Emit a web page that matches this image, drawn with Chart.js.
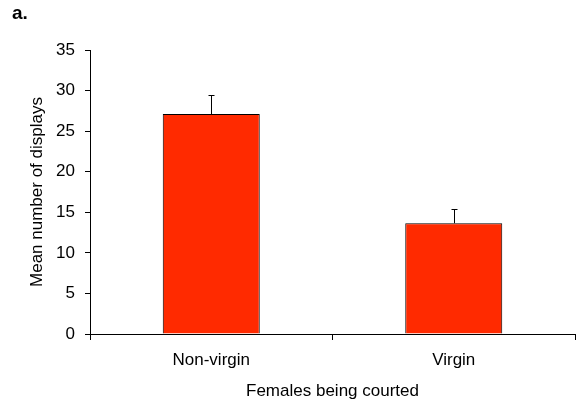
<!DOCTYPE html>
<html>
<head>
<meta charset="utf-8">
<script src="https://cdn.jsdelivr.net/npm/chart.js@4"></script>
<style>
  html, body { margin: 0; padding: 0; background: #fff; }
  #wrap { width: 576px; height: 404px; position: relative; }
</style>
</head>
<body>
<div id="wrap"><canvas id="c" width="576" height="404"></canvas></div>
<script>
// Mean displays per female group, with standard error (drawn upward only)
const categories = ['Non-virgin', 'Virgin'];
const meanDisplays = [27.1, 13.65];
const stdErrors = [2.4, 1.75];
const yTicks = [0, 5, 10, 15, 20, 25, 30, 35];
const panelLabel = 'a.';
const xTitle = 'Females being courted';
const yTitle = 'Mean number of displays';

const FONT = "'Liberation Sans', Arial, sans-serif";

// Upward error bars with a small cap
const errorBars = {
  id: 'errorBars',
  afterDatasetsDraw(chart) {
    const ctx = chart.ctx;
    const y = chart.scales.y;
    const meta = chart.getDatasetMeta(0);
    ctx.save();
    ctx.strokeStyle = '#000';
    ctx.lineWidth = 1;
    meta.data.forEach((bar, i) => {
      const x = Math.round(bar.x) + 0.5;
      const top = Math.round(y.getPixelForValue(meanDisplays[i] + stdErrors[i])) + 0.5;
      const base = bar.y;
      ctx.beginPath();
      ctx.moveTo(x, base);
      ctx.lineTo(x, top);
      ctx.moveTo(x - 3, top);
      ctx.lineTo(x + 3, top);
      ctx.stroke();
    });
    ctx.restore();
  }
};

// Panel letter in the top-left corner
const panelTag = {
  id: 'panelTag',
  afterDraw(chart) {
    const ctx = chart.ctx;
    ctx.save();
    ctx.fillStyle = '#000';
    ctx.font = "bold 19px " + FONT;
    ctx.textBaseline = 'alphabetic';
    ctx.fillText(panelLabel, 12, 19);
    ctx.restore();
  }
};

new Chart(document.getElementById('c'), {
  type: 'bar',
  data: {
    labels: categories,
    datasets: [{
      data: meanDisplays,
      backgroundColor: '#ff2a00',
      borderColor: '#000',
      borderWidth: 1,
      categoryPercentage: 1,
      barPercentage: 0.4
    }]
  },
  options: {
    responsive: false,
    animation: false,
    devicePixelRatio: 1,
    layout: { padding: { left: 27, right: 1, top: 50, bottom: 2 } },
    plugins: {
      legend: { display: false },
      tooltip: { enabled: false }
    },
    scales: {
      x: {
        offset: true,
        grid: {
          offset: true,
          drawOnChartArea: false,
          drawTicks: true,
          tickLength: 6,
          color: '#000'
        },
        border: { display: true, color: '#000', width: 1 },
        ticks: {
          color: '#000',
          font: { family: FONT, size: 17 },
          padding: 10
        },
        title: {
          display: true,
          text: xTitle,
          color: '#000',
          font: { family: FONT, size: 17 },
          padding: { top: 0, bottom: 0 }
        },
        afterFit(scale) { scale.height = 404 - 334 - 2; }
      },
      y: {
        min: 0,
        max: 35,
        afterBuildTicks(scale) { scale.ticks = yTicks.map(v => ({ value: v })); },
        grid: {
          drawOnChartArea: false,
          drawTicks: true,
          tickLength: 5,
          color: '#000'
        },
        border: { display: true, color: '#000', width: 1 },
        ticks: {
          color: '#000',
          font: { family: FONT, size: 17 },
          padding: 10
        },
        title: {
          display: true,
          text: yTitle,
          color: '#000',
          font: { family: FONT, size: 17 },
          padding: { top: 0, bottom: 0 }
        },
        afterFit(scale) { scale.width = 90 - 27; }
      }
    }
  },
  plugins: [errorBars, panelTag]
});
</script>
</body>
</html>
